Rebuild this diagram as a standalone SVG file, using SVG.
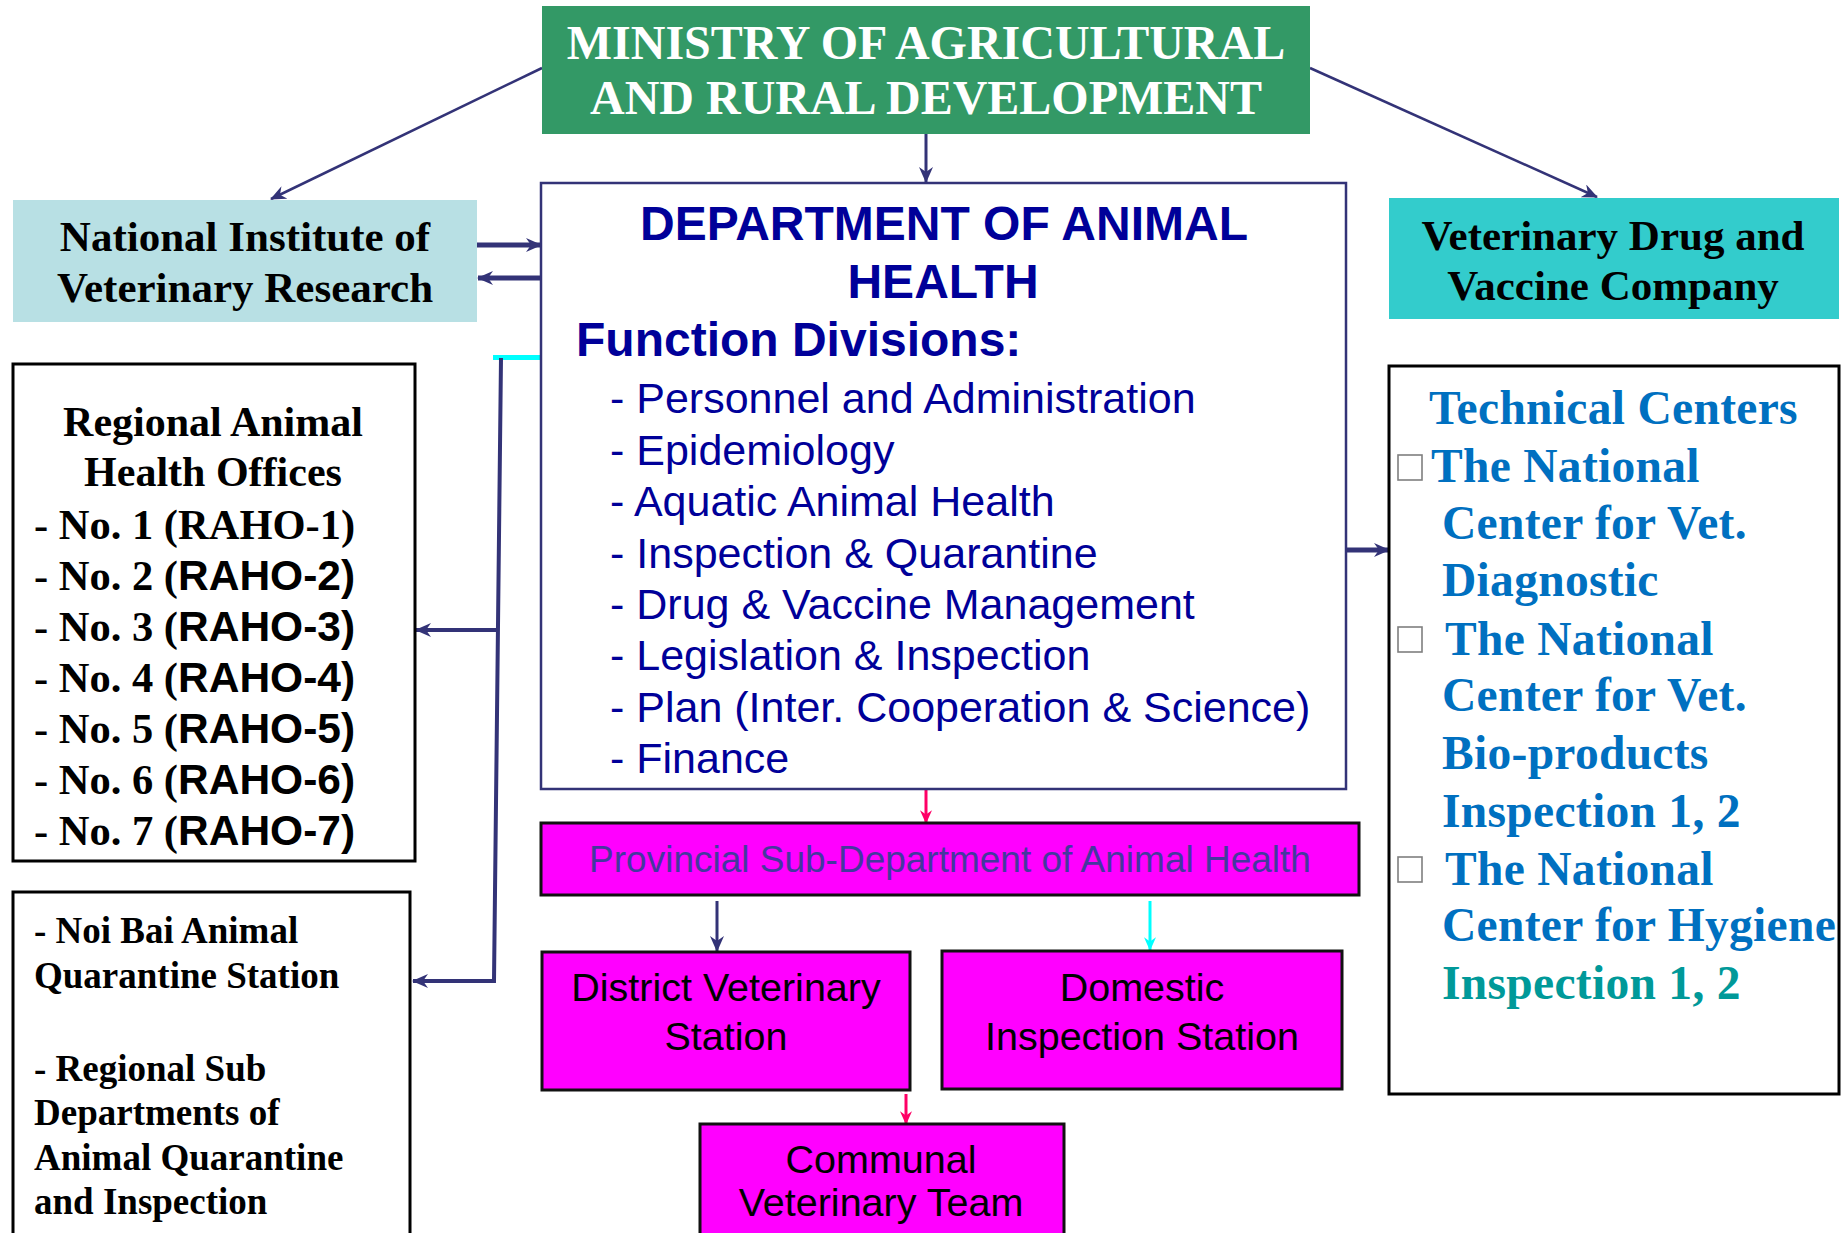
<svg xmlns="http://www.w3.org/2000/svg" width="1847" height="1233" viewBox="0 0 1847 1233">
  <style>
    .serif { font-family: "Liberation Serif", "Times New Roman", serif; font-weight: bold; }
    .sans { font-family: "Liberation Sans", Arial, sans-serif; }
    .sansb { font-family: "Liberation Sans", Arial, sans-serif; font-weight: bold; }
    .box { fill: #ffffff; stroke: #000000; stroke-width: 3; }
    .mag { fill: #ff00ff; stroke: #111111; stroke-width: 3; }
    .conn { fill: none; stroke: #333377; }
    .chk { fill: #ffffff; stroke: #7f7f7f; stroke-width: 1.6; }
    .tc { fill: #0070c0; font-size: 47.5px; letter-spacing: 0.3px; }
  </style>
  <defs>
    <marker id="ah" viewBox="0 0 16 14" markerWidth="16" markerHeight="14" refX="15" refY="7" orient="auto" markerUnits="userSpaceOnUse">
      <path d="M0,0 L16,7 L0,14 L5,7 z" fill="#333377"/>
    </marker>
    <marker id="ahPink" viewBox="0 0 16 14" markerWidth="14" markerHeight="12" refX="15" refY="7" orient="auto" markerUnits="userSpaceOnUse">
      <path d="M0,0 L16,7 L0,14 L5,7 z" fill="#ff0066"/>
    </marker>
    <marker id="ahCyan" viewBox="0 0 16 14" markerWidth="14" markerHeight="12" refX="15" refY="7" orient="auto" markerUnits="userSpaceOnUse">
      <path d="M0,0 L16,7 L0,14 L5,7 z" fill="#00ffff"/>
    </marker>
  </defs>
  <rect x="0" y="0" width="1847" height="1233" fill="#ffffff"/>

  <!-- connectors -->
  <g id="connectors">
    <line class="conn" x1="542" y1="68" x2="271" y2="199" stroke-width="2.5" marker-end="url(#ah)"/>
    <line class="conn" x1="1310" y1="68" x2="1597" y2="197" stroke-width="2.5" marker-end="url(#ah)"/>
    <line class="conn" x1="926" y1="134" x2="926" y2="182" stroke-width="3" marker-end="url(#ah)"/>
    <line class="conn" x1="477" y1="245" x2="541" y2="245" stroke-width="5" marker-end="url(#ah)"/>
    <line class="conn" x1="541" y1="278" x2="478" y2="278" stroke-width="5" marker-end="url(#ah)"/>
    <line x1="493" y1="357.5" x2="542" y2="357.5" stroke="#00ffff" stroke-width="5"/>
    <polyline class="conn" points="501,358 494,981 413,981" stroke-width="4" marker-end="url(#ah)"/>
    <line class="conn" x1="496" y1="630" x2="416" y2="630" stroke-width="4" marker-end="url(#ah)"/>
    <line class="conn" x1="1346" y1="550" x2="1389" y2="550" stroke-width="5" marker-end="url(#ah)"/>
    <line x1="926" y1="790" x2="926" y2="823" stroke="#ff0066" stroke-width="3" marker-end="url(#ahPink)"/>
    <line class="conn" x1="717" y1="901" x2="717" y2="951" stroke-width="3" marker-end="url(#ah)"/>
    <line x1="1150" y1="901" x2="1150" y2="950" stroke="#00ffff" stroke-width="3" marker-end="url(#ahCyan)"/>
    <line x1="906" y1="1094" x2="906" y2="1124" stroke="#ff0066" stroke-width="3" marker-end="url(#ahPink)"/>
  </g>

  <!-- Ministry -->
  <g id="ministry">
    <rect x="542" y="6" width="768" height="128" fill="#339966"/>
    <text class="serif" x="926" y="59" font-size="48" fill="#ffffff" text-anchor="middle">MINISTRY OF AGRICULTURAL</text>
    <text class="serif" x="926" y="114" font-size="48" fill="#ffffff" text-anchor="middle">AND RURAL DEVELOPMENT</text>
  </g>

  <!-- National Institute of Veterinary Research -->
  <g id="nivr">
    <rect x="13" y="200" width="464" height="122" fill="#b8e0e4"/>
    <text class="serif" x="245" y="251" font-size="43" text-anchor="middle">National Institute of</text>
    <text class="serif" x="245" y="302" font-size="43" text-anchor="middle">Veterinary Research</text>
  </g>

  <!-- Veterinary Drug and Vaccine Company -->
  <g id="vet-drug">
    <rect x="1389" y="198" width="450" height="121" fill="#33cccc"/>
    <text class="serif" x="1613" y="250" font-size="43" text-anchor="middle">Veterinary Drug and</text>
    <text class="serif" x="1613" y="300" font-size="43" text-anchor="middle">Vaccine Company</text>
  </g>

  <!-- Department of Animal Health -->
  <g id="dah">
    <rect x="541" y="183" width="805" height="606" fill="#ffffff" stroke="#333377" stroke-width="2.5"/>
    <text class="sansb" x="944" y="240" font-size="48" fill="#000099" text-anchor="middle">DEPARTMENT OF ANIMAL</text>
    <text class="sansb" x="943" y="298" font-size="48" fill="#000099" text-anchor="middle">HEALTH</text>
    <text class="sansb" x="576" y="356" font-size="48" fill="#000099">Function Divisions:</text>
    <g class="sans" font-size="43" fill="#000099">
      <text x="610" y="413">- Personnel and Administration</text>
      <text x="610" y="465">- Epidemiology</text>
      <text x="610" y="516">- Aquatic Animal Health</text>
      <text x="610" y="568">- Inspection &amp; Quarantine</text>
      <text x="610" y="619">- Drug &amp; Vaccine Management</text>
      <text x="610" y="670">- Legislation &amp; Inspection</text>
      <text x="610" y="722">- Plan (Inter. Cooperation &amp; Science)</text>
      <text x="610" y="773">- Finance</text>
    </g>
  </g>

  <!-- Regional Animal Health Offices -->
  <g id="raho">
    <rect class="box" x="13" y="364" width="402" height="497"/>
    <text class="serif" x="213" y="436" font-size="42" text-anchor="middle">Regional Animal</text>
    <text class="serif" x="213" y="486" font-size="42" text-anchor="middle">Health Offices</text>
    <g class="serif" font-size="42.5">
      <text x="34" y="539">- No. 1 (RAHO-1)</text>
      <text x="34" y="590">- No. 2 (<tspan class="sansb">RAHO-2)</tspan></text>
      <text x="34" y="641">- No. 3 (<tspan class="sansb">RAHO-3)</tspan></text>
      <text x="34" y="692">- No. 4 (<tspan class="sansb">RAHO-4)</tspan></text>
      <text x="34" y="743">- No. 5 (<tspan class="sansb">RAHO-5)</tspan></text>
      <text x="34" y="794">- No. 6 (<tspan class="sansb">RAHO-6)</tspan></text>
      <text x="34" y="845">- No. 7 (<tspan class="sansb">RAHO-7)</tspan></text>
    </g>
  </g>

  <!-- Quarantine stations -->
  <g id="quarantine">
    <rect class="box" x="13" y="892" width="397" height="360"/>
    <g class="serif" font-size="37">
      <text x="34" y="943">- Noi Bai Animal</text>
      <text x="34" y="988">Quarantine Station</text>
      <text x="34" y="1081">- Regional Sub</text>
      <text x="34" y="1125">Departments of</text>
      <text x="34" y="1170">Animal Quarantine</text>
      <text x="34" y="1214">and Inspection</text>
    </g>
  </g>

  <!-- Technical Centers -->
  <g id="technical-centers">
    <rect class="box" x="1389" y="366" width="450" height="728"/>
    <rect class="chk" x="1398" y="455" width="24" height="25"/>
    <rect class="chk" x="1398" y="627" width="24" height="25"/>
    <rect class="chk" x="1398" y="857" width="24" height="25"/>
    <g class="serif tc">
      <text x="1429" y="424">Technical Centers</text>
      <text x="1431" y="482">The National</text>
      <text x="1442" y="539">Center for Vet.</text>
      <text x="1442" y="596">Diagnostic</text>
      <text x="1445" y="655">The National</text>
      <text x="1442" y="711">Center for Vet.</text>
      <text x="1442" y="769">Bio-products</text>
      <text x="1442" y="827">Inspection 1, 2</text>
      <text x="1445" y="885">The National</text>
      <text x="1442" y="941">Center for Hygiene</text>
      <text x="1442" y="999" fill="#009999">Inspection 1, 2</text>
    </g>
  </g>

  <!-- Provincial Sub-Department -->
  <g id="provincial">
    <rect class="mag" x="541" y="823" width="818" height="72"/>
    <text class="sans" x="950" y="872" font-size="37" fill="#45389e" text-anchor="middle">Provincial Sub-Department of Animal Health</text>
  </g>

  <!-- District Veterinary Station -->
  <g id="district">
    <rect class="mag" x="542" y="952" width="368" height="138"/>
    <text class="sans" x="726" y="1001" font-size="39.5" text-anchor="middle">District Veterinary</text>
    <text class="sans" x="726" y="1050" font-size="39.5" text-anchor="middle">Station</text>
  </g>

  <!-- Domestic Inspection Station -->
  <g id="domestic">
    <rect class="mag" x="942" y="951" width="400" height="138"/>
    <text class="sans" x="1142" y="1001" font-size="39.5" text-anchor="middle">Domestic</text>
    <text class="sans" x="1142" y="1050" font-size="39.5" text-anchor="middle">Inspection Station</text>
  </g>

  <!-- Communal Veterinary Team -->
  <g id="communal">
    <rect class="mag" x="700" y="1124" width="364" height="130"/>
    <text class="sans" x="881" y="1173" font-size="39.5" text-anchor="middle">Communal</text>
    <text class="sans" x="881" y="1216" font-size="39.5" text-anchor="middle">Veterinary Team</text>
  </g>
</svg>
